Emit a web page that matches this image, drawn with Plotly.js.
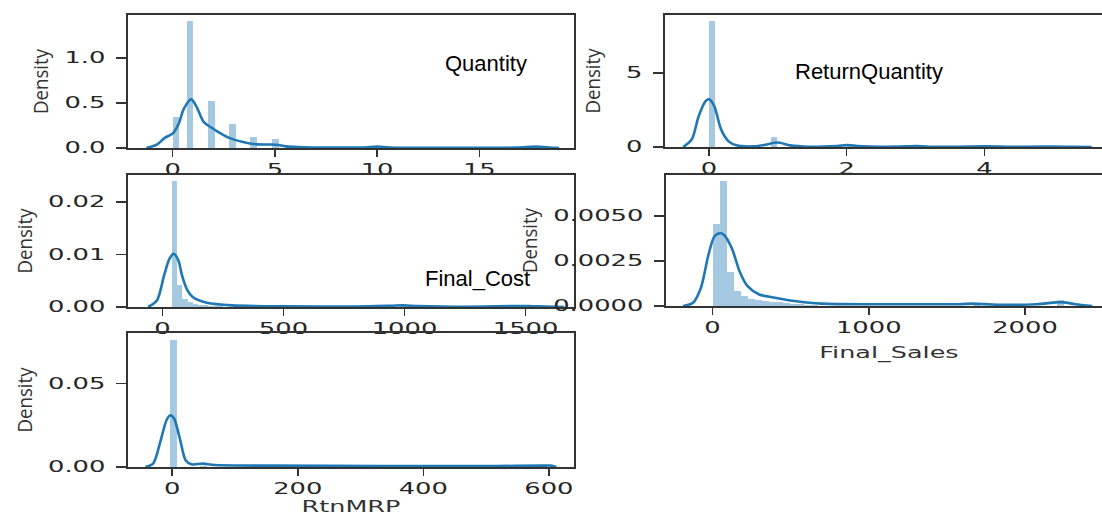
<!DOCTYPE html>
<html><head><meta charset="utf-8">
<script src="https://cdn.plot.ly/plotly-3.0.1.min.js"></script>
<style>html,body{margin:0;padding:0;overflow:hidden;background:#fff;} #chart{width:1112px;height:516px;}</style>
</head><body><div id="chart"></div>
<script>
// ---- Quantity ----
const qtyBinLeft = [0, 0.69, 1.73, 2.77, 3.81, 4.85, 9.69, 17.65];
const qtyDensity = [0.344, 1.41, 0.52, 0.263, 0.122, 0.096, 0.01, 0.015];
const qtyBinWidth = 0.33;
const qtyKdeX = [-1.28,-0.75,-0.40,0,0.30,0.56,0.91,1.17,1.52,1.87,2.22,2.74,3.44,4.14,5.05,5.54,6.41,8.1,9.4,10.0,10.6,12.0,14.3,16.8,17.5,17.8,18.4,18.9];
const qtyKdeY = [0,0.04,0.11,0.16,0.27,0.44,0.54,0.46,0.29,0.23,0.18,0.115,0.067,0.04,0.037,0.018,0.007,0.004,0.006,0.015,0.006,0.002,0.002,0.004,0.012,0.015,0.005,0];

// ---- ReturnQuantity ----
const rqBinLeft = [0, 0.9, 2.0, 3.0, 4.0, 4.9];
const rqDensity = [8.5, 0.68, 0.2, 0.06, 0.03, 0.03];
const rqBinWidth = 0.09;
const rqKdeX = [-0.376,-0.25,-0.15,-0.05,0,0.075,0.175,0.28,0.40,0.65,0.80,0.95,1.03,1.18,1.46,1.86,2.01,2.16,2.51,2.86,3.0,3.2,3.6,4.0,4.4,4.87,5.0,5.3,5.56];
const rqKdeY = [0,0.52,2.1,3.1,3.22,2.77,1.19,0.4,0.11,0.045,0.135,0.29,0.29,0.11,0.02,0.07,0.13,0.07,0.02,0.04,0.06,0.02,0.015,0.04,0.015,0.025,0.03,0.01,0];

// ---- Final_Cost ----
const fcBinLeft = [41,62,83,104,125,146,167,188,209,230,986,1490];
const fcDensity = [0.0239,0.0041,0.0016,0.0009,0.0006,0.0004,0.0003,0.0002,0.00015,0.0001,0.0002,0.0002];
const fcBinWidth = 21;
const fcKdeX = [-59,-22,7,29.5,47,66,81,103,125,184,287,508,803,951,995,1054,1245,1511,1585,1660];
const fcKdeY = [0,0.0013,0.006,0.0092,0.0101,0.0089,0.006,0.0032,0.0019,0.0008,0.0003,0.00013,0.0001,0.00025,0.0003,0.0002,0.00006,0.0002,0.00007,0];

// ---- Final_Sales ----
const fsBinLeft = [0,45,90,135,180,225,270,315,360,405,450,495,540,585,630,1665,2205];
const fsDensity = [0.00454,0.00693,0.0019,0.00083,0.00055,0.0004,0.00035,0.0003,0.00025,0.0002,0.00015,0.00012,0.0001,0.00008,0.00006,0.0001,0.00035];
const fsBinWidth = 45;
const fsKdeX = [-188,-125,-75,-26,12,49,74,124,174,224,299,399,524,699,1074,1574,1670,1823,2074,2199,2248,2323,2430];
const fsKdeY = [0,0.00018,0.001,0.00285,0.00386,0.00404,0.00395,0.0032,0.0019,0.0011,0.00064,0.00046,0.00028,0.00013,0.0001,0.0001,0.00013,0.00007,0.0001,0.0002,0.0002,0.0001,0];

// ---- RtnMRP ----
const rmBinLeft = [-4, 44, 92];
const rmDensity = [0.076, 0.0008, 0.0003];
const rmBinWidth = 11;
const rmKdeX = [-42.7,-30.4,-18.3,-9.1,-3,3,12.2,21.4,30.5,48.8,67,152,335,518,590,603,612];
const rmKdeY = [0,0.002,0.016,0.028,0.031,0.029,0.017,0.004,0.0016,0.002,0.0012,0.0008,0.0006,0.0006,0.0008,0.0008,0];

const panelTitles = ['Quantity','ReturnQuantity','Final_Cost','Final_Sales','RtnMRP'];
const yTitleText = 'Density';

const BAR = 'rgba(31,119,180,0.4)';
const LINE = '#1f77b4';
function panel(n, binLeft, dens, w, kx, ky){
  const xa = n===1?'x':'x'+n, ya = n===1?'y':'y'+n;
  return [
    {type:'bar', x:binLeft, y:dens, width:w, offset:0, marker:{color:BAR, line:{width:0}}, xaxis:xa, yaxis:ya, hoverinfo:'skip'},
    {type:'scatter', mode:'lines', x:kx, y:ky, line:{color:LINE, width:2.6, shape:'spline', smoothing:0.8}, xaxis:xa, yaxis:ya, hoverinfo:'skip'}
  ];
}
const data = [].concat(
  panel(1, qtyBinLeft, qtyDensity, qtyBinWidth, qtyKdeX, qtyKdeY),
  panel(2, rqBinLeft, rqDensity, rqBinWidth, rqKdeX, rqKdeY),
  panel(3, fcBinLeft, fcDensity, fcBinWidth, fcKdeX, fcKdeY),
  panel(4, fsBinLeft, fsDensity, fsBinWidth, fsKdeX, fsKdeY),
  panel(5, rmBinLeft, rmDensity, rmBinWidth, rmKdeX, rmKdeY)
);

const W = 1112, H = 516;
const dx = (a,b)=>[a/W, b/W];
const dy = (top,bottom)=>[(H-bottom)/H, (H-top)/H];
function base(){
  return {showline:true, linecolor:'#333', linewidth:1.6, mirror:true, ticks:'outside', tickcolor:'#333', tickwidth:1.5,
    showgrid:false, zeroline:false, tickfont:{family:'DejaVu Sans', size:15, color:'#262626'}, fixedrange:true, tickmode:'linear', tick0:0};
}
function X(o){return Object.assign(base(), {ticklen:7}, o);}
function Y(o){return Object.assign(base(), {ticklen:10, ticklabelstandoff:8,
  title:{text:yTitleText, font:{family:'Open Sans', size:20, color:'#333'}}}, o);}
function xt(t, s){return {text:t, font:{family:'DejaVu Sans', size:15, color:'#333'}, standoff:s};}

const layout = {
  width:W, height:H, margin:{l:0,r:0,t:0,b:0}, showlegend:false,
  paper_bgcolor:'#fff', plot_bgcolor:'#fff', bargap:0,
  xaxis: X({domain:dx(128,574), range:[-2.18,19.63], dtick:5, anchor:'y'}),
  yaxis: Y({domain:dy(15,148), range:[0,1.478], dtick:0.5, tickformat:'.1f', anchor:'x'}),
  xaxis2: X({domain:dx(665,1112), range:[-0.64,5.855], dtick:2, anchor:'y2'}),
  yaxis2: Y({domain:dy(15,147), range:[0,8.92], dtick:5, anchor:'x2'}),
  xaxis3: X({domain:dx(128,574), range:[-142,1700], dtick:500, anchor:'y3'}),
  yaxis3: Y({domain:dy(175,307), range:[0,0.0251], dtick:0.01, tickformat:'.2f', anchor:'x3'}),
  xaxis4: X({domain:dx(666,1112), range:[-298,2557], dtick:1000, anchor:'y4', title:xt(panelTitles[3], 12)}),
  yaxis4: Y({domain:dy(175,306), range:[0,0.00728], dtick:0.0025, tickformat:'.4f', anchor:'x4'}),
  xaxis5: X({domain:dx(128,574), range:[-70.4,640], dtick:200, anchor:'y5', title:xt(panelTitles[4], 6)}),
  yaxis5: Y({domain:dy(333,467), range:[0,0.0802], dtick:0.05, tickformat:'.2f', anchor:'x5'}),
  annotations: [
    {text:panelTitles[0], xref:'paper', yref:'paper', x:486/W, y:1-63/H, showarrow:false, xanchor:'center', yanchor:'middle', font:{family:'Liberation Sans, Arial', size:22, color:'#000'}},
    {text:panelTitles[1], xref:'paper', yref:'paper', x:869/W, y:1-71/H, showarrow:false, xanchor:'center', yanchor:'middle', font:{family:'Liberation Sans, Arial', size:22, color:'#000'}},
    {text:panelTitles[2], xref:'paper', yref:'paper', x:477/W, y:1-278/H, showarrow:false, xanchor:'center', yanchor:'middle', font:{family:'Liberation Sans, Arial', size:22, color:'#000'}}
  ]
};

Plotly.newPlot('chart', data, layout, {staticPlot:true, displayModeBar:false}).then(gd => {
  const SX = 1.72;
  const EXTRA = 8;
  const YTITLE_LEN = 66;
  ['', '2', '3', '4', '5'].forEach(n => {
    ['x','y'].forEach(a => {
      const id = a + n;
      let grow = 0;
      gd.querySelectorAll('g.' + id + 'tick text').forEach(t => {
        const b = t.getBBox();
        const cx = a === 'x' ? b.x + b.width/2 : b.x + b.width;
        const prev = t.getAttribute('transform') || '';
        t.setAttribute('transform', prev + ' translate(' + cx + ',0) scale(' + SX + ',1) translate(' + (-cx) + ',0)');
        grow = Math.max(grow, b.width*(SX-1));
      });
      const tg = gd.querySelector('.g-' + id + 'title');
      if (!tg) return;
      const t = tg.querySelector('text');
      if (!t) return;
      const b = t.getBBox();
      const cx = b.x + b.width/2;
      const prev = t.getAttribute('transform') || '';
      if (a === 'y') {
        const s = YTITLE_LEN / b.width;
        t.setAttribute('transform', prev + ' translate(' + cx + ',0) scale(' + s + ',1) translate(' + (-cx) + ',0)');
        tg.setAttribute('transform', 'translate(' + (-(grow + EXTRA)) + ',0) ' + (tg.getAttribute('transform') || ''));
      } else {
        t.setAttribute('transform', prev + ' translate(' + cx + ',0) scale(1.7,1) translate(' + (-cx) + ',0)');
      }
    });
  });
});
</script>
</body></html>
